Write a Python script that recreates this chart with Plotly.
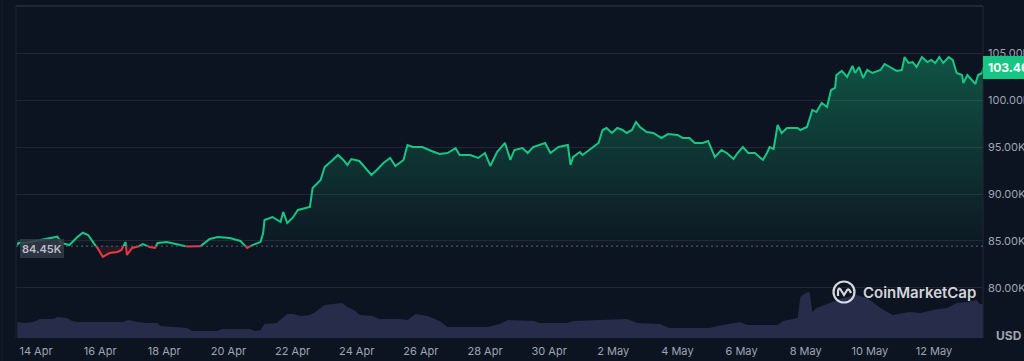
import numpy as np
import pandas as pd
import plotly.graph_objects as go

# ---------------- data ----------------
START = pd.Timestamp("2025-04-14 00:00")

price_hours = [
    -14, -13, -8, 16, 19, 25, 31, 35, 39, 44,
    46, 50, 55, 61, 64, 67, 68, 72, 76, 80,
    85, 89, 91, 98, 106, 113, 123, 130, 136, 145,
    153, 158, 162, 168, 170, 171, 177, 183, 185, 188,
    192, 196, 205, 207, 213, 216, 219, 222, 226, 230,
    233, 236, 242, 246, 251, 255, 260, 265, 269, 275,
    278, 282, 289, 296, 302, 308, 314, 317, 325, 331,
    336, 340, 345, 351, 355, 358, 364, 368, 372, 381,
    385, 391, 398, 400, 402, 407, 409, 417, 421, 424,
    427, 431, 435, 439, 442, 446, 449, 452, 457, 462,
    468, 473, 480, 484, 489, 493, 499, 503, 506, 508,
    513, 517, 522, 525, 529, 533, 538, 544, 547, 549,
    552, 555, 558, 562, 570, 572, 577, 581, 584, 588,
    592, 595, 598, 599, 603, 607, 611, 613, 616, 619,
    622, 626, 632, 635, 639, 644, 648, 650, 653, 656,
    659, 663, 667, 670, 673, 676, 679, 683, 686, 689,
    693, 694, 697, 700, 703, 705, 708, 709,
]

price_k = [
    84.57, 84.82, 84.79, 85.46, 84.79, 84.57, 85.43, 85.88, 85.64, 84.57,
    84.26, 83.30, 83.72, 83.83, 84.04, 84.89, 83.51, 84.26, 84.36, 84.68,
    84.36, 84.26, 84.79, 84.89, 84.68, 84.41, 84.43, 85.21, 85.43, 85.32,
    85.00, 84.26, 84.57, 84.89, 85.85, 87.23, 87.55, 87.02, 88.09, 86.91,
    87.45, 88.30, 88.62, 90.64, 91.49, 92.87, 93.30, 93.62, 94.15, 93.62,
    93.09, 93.72, 93.51, 92.87, 92.02, 92.55, 93.30, 93.83, 92.98, 93.62,
    95.21, 95.00, 95.00, 94.57, 94.26, 94.36, 94.89, 94.15, 94.15, 93.83,
    94.36, 92.98, 94.47, 95.43, 93.62, 94.68, 94.89, 94.36, 95.00, 95.43,
    94.36, 95.00, 95.21, 93.09, 93.94, 94.47, 94.15, 95.00, 95.43, 96.81,
    97.02, 96.49, 97.02, 96.81, 96.49, 96.81, 97.66, 97.13, 96.60, 96.49,
    95.96, 96.38, 96.28, 95.96, 95.96, 95.43, 95.43, 95.64, 94.68, 93.94,
    94.68, 94.36, 93.72, 94.36, 95.00, 94.36, 94.36, 93.62, 94.36, 95.00,
    94.79, 97.34, 96.49, 97.02, 97.02, 96.81, 97.13, 98.94, 98.72, 99.68,
    99.26, 101.06, 101.28, 102.66, 103.09, 102.45, 103.62, 102.87, 103.51, 102.34,
    103.19, 102.87, 103.19, 103.83, 103.51, 103.09, 103.19, 104.57, 103.94, 104.04,
    103.51, 104.57, 104.04, 104.26, 103.94, 104.57, 103.94, 104.57, 104.26, 102.87,
    102.66, 101.81, 102.66, 102.13, 101.70, 102.66, 102.87, 103.46,
]

volume_hours = [
    -14, -8, -2, 3, 13, 16, 23, 27, 31, 65,
    69, 76, 83, 91, 93, 108, 113, 117, 135, 140,
    160, 164, 168, 171, 180, 188, 192, 198, 205, 209,
    216, 222, 229, 233, 239, 242, 252, 257, 272, 278,
    284, 293, 302, 308, 338, 347, 353, 372, 377, 397,
    402, 422, 442, 450, 467, 474, 504, 510, 522, 527,
    532, 555, 559, 570, 572, 576, 579, 581, 584, 594,
    604, 614, 622, 632, 641, 654, 662, 671, 682, 689,
    697, 704, 706, 709,
]

volume_bn = [
    24, 22.5, 24, 28.5, 28.5, 31.5, 30, 25.5, 24, 24,
    27, 24, 22.5, 22.5, 18, 16.5, 15, 10.5, 10.5, 13.5,
    13.5, 10.5, 12, 21, 22.5, 36, 36, 33, 34.5, 39,
    49.5, 51, 52.5, 46.5, 40.5, 34.5, 33, 28.5, 28.5, 27,
    36, 33, 25.5, 16.5, 16.5, 21, 27, 25.5, 22.5, 22.5,
    25.5, 27, 28.5, 22.5, 21, 15, 15, 18, 22.5, 24,
    19.5, 19.5, 25.5, 30, 61.5, 67.5, 69, 39, 45, 52.5,
    60, 64.5, 60, 45, 34.5, 39, 37.5, 42, 45, 52.5,
    54, 57, 51, 51,
]

BASELINE = 84450
LAST_PRICE = 103460
baseline_label = "84.45K"
last_label = "103.46K"
y_tick_vals = [80000, 85000, 90000, 95000, 100000, 105000]
y_tick_text = ["80.00K", "85.00K", "90.00K", "95.00K", "100.00K", "105.00K"]
x_tick_dates = pd.date_range("2025-04-14", "2025-05-12", freq="2D")

# ---------------- styling ----------------
BG = "#0d1421"
GREEN = "#16c784"
RED = "#ea3943"
GRID = "#222733"
LABEL = "#9ea4b4"
FONT = "Inter"

Y_RANGE = [74680, 110000]
X_RANGE = [START - pd.Timedelta(hours=14.97), START + pd.Timedelta(hours=708.7)]

# ---------------- split line at the baseline ----------------
t = np.array(price_hours, float)
p = np.array(price_k, float) * 1000
ts, ps = [t[0]], [p[0]]
for i in range(len(t) - 1):
    a, b = p[i] - BASELINE, p[i + 1] - BASELINE
    if a * b < 0:
        f = a / (a - b)
        ts.append(t[i] + f * (t[i + 1] - t[i]))
        ps.append(BASELINE)
    ts.append(t[i + 1])
    ps.append(p[i + 1])
ps = np.array(ps)
times = START + pd.to_timedelta(ts, unit="h")
green_line = [v if v >= BASELINE else None for v in ps]
red_line = [v if v <= BASELINE else None for v in ps]
green_fill = np.maximum(ps, BASELINE)
red_fill = np.minimum(ps, BASELINE)
base_arr = np.full(len(ps), BASELINE)

vol_times = START + pd.to_timedelta(volume_hours, unit="h")

fig = go.Figure()

fig.add_trace(go.Scatter(
    x=vol_times, y=volume_bn, yaxis="y2", mode="lines",
    line=dict(width=0, color="rgb(38,44,74)"), fill="tozeroy",
    fillcolor="rgb(38,44,74)", hoverinfo="skip", showlegend=False,
))

fig.add_trace(go.Scatter(x=times, y=base_arr, mode="lines", line=dict(width=0),
                         hoverinfo="skip", showlegend=False))
fig.add_trace(go.Scatter(
    x=times, y=green_fill, mode="lines", line=dict(width=0), fill="tonexty",
    fillgradient=dict(type="vertical",
                      colorscale=[[0, "rgba(22,199,132,0.02)"], [1, "rgba(22,199,132,0.36)"]],
                      start=BASELINE, stop=105000),
    hoverinfo="skip", showlegend=False,
))
fig.add_trace(go.Scatter(x=times, y=base_arr, mode="lines", line=dict(width=0),
                         hoverinfo="skip", showlegend=False))
fig.add_trace(go.Scatter(
    x=times, y=red_fill, mode="lines", line=dict(width=0), fill="tonexty",
    fillcolor="rgba(234,57,67,0.12)", hoverinfo="skip", showlegend=False,
))
fig.add_trace(go.Scatter(x=times, y=green_line, mode="lines",
                         line=dict(color=GREEN, width=2), connectgaps=False,
                         showlegend=False))
fig.add_trace(go.Scatter(x=times, y=red_line, mode="lines",
                         line=dict(color=RED, width=2), connectgaps=False,
                         showlegend=False))

W, H = 1024, 361
L, R, T, B = 16, 41, 6, 23
PW, PH = W - L - R, H - T - B


def px_x(px):
    return (px - L) / PW


def px_y(py):
    return (H - B - py) / PH


def val_y(v):
    return (v - Y_RANGE[0]) / (Y_RANGE[1] - Y_RANGE[0])


shapes = [
    # outer frame
    dict(type="line", xref="paper", yref="paper", x0=0, x1=1, y0=1, y1=1,
         line=dict(color="#2a2f3c", width=1.5)),
    dict(type="line", xref="paper", yref="paper", x0=0, x1=0, y0=0, y1=1,
         line=dict(color="#1f2430", width=1)),
    dict(type="line", xref="paper", yref="paper", x0=1, x1=1, y0=0, y1=1,
         line=dict(color="#222733", width=1)),
    dict(type="line", xref="paper", yref="paper", x0=px_x(2), x1=px_x(2), y0=px_y(0), y1=px_y(361),
         line=dict(color="#1a1f2b", width=1)),
    # baseline dotted
    dict(type="line", xref="paper", yref="paper", x0=0, x1=1,
         y0=val_y(BASELINE), y1=val_y(BASELINE),
         line=dict(color="#5b6172", width=1, dash="2px,3px"), layer="above"),
    # baseline tag
    dict(type="rect", xref="paper", yref="paper", x0=px_x(20), x1=px_x(64),
         y0=px_y(258), y1=px_y(239), fillcolor="rgba(52,58,72,0.85)",
         line=dict(width=0), layer="above"),
    # last price tag
    dict(type="rect", xref="paper", yref="paper", x0=1, x1=px_x(1040),
         y0=val_y(LAST_PRICE) - 11.5 / PH, y1=val_y(LAST_PRICE) + 11.5 / PH,
         fillcolor=GREEN, line=dict(width=0), layer="above"),
    # watermark logo
    dict(type="circle", xref="paper", yref="paper", xsizemode="pixel", ysizemode="pixel",
         xanchor=px_x(844), yanchor=px_y(292), x0=-10.5, x1=10.5, y0=-10.5, y1=10.5,
         line=dict(color="rgba(235,237,242,0.9)", width=2.2), layer="above"),
    dict(type="path", xref="paper", yref="paper", xsizemode="pixel", ysizemode="pixel",
         xanchor=px_x(844), yanchor=px_y(292),
         path="M -6 -4 L -6 1 Q -5 6 -2.5 1 L 0 -3 L 2.5 1 Q 4.5 5 7 -1",
         line=dict(color="rgba(235,237,242,0.9)", width=2.2), layer="above"),
]

annotations = [
    dict(text=baseline_label, xref="paper", yref="paper", x=px_x(42), y=px_y(248.5),
         xanchor="center", yanchor="middle", showarrow=False,
         font=dict(family=FONT, size=11, color="#b9bdc9", weight=600)),
    dict(text=last_label, xref="paper", yref="paper", x=px_x(986), y=val_y(LAST_PRICE),
         xanchor="left", yanchor="middle", showarrow=False,
         font=dict(family=FONT, size=12, color="#ffffff", weight=700)),
    dict(text="USD", xref="paper", yref="paper", x=px_x(994), y=px_y(335),
         xanchor="left", yanchor="middle", showarrow=False,
         font=dict(family=FONT, size=12, color=LABEL, weight=700)),
    dict(text="CoinMarketCap", xref="paper", yref="paper", x=px_x(861), y=px_y(292),
         xanchor="left", yanchor="middle", showarrow=False,
         font=dict(family=FONT, size=15, color="rgba(235,237,242,0.9)", weight=600)),
]

fig.update_layout(
    width=W, height=H, autosize=False,
    margin=dict(l=L, r=R, t=T, b=B, pad=0, autoexpand=False),
    paper_bgcolor=BG, plot_bgcolor=BG,
    showlegend=False,
    font=dict(family=FONT, color=LABEL, size=11),
    xaxis=dict(type="date", range=X_RANGE, tickvals=x_tick_dates, automargin=False,
               tickformat="%-d %b", showgrid=False, zeroline=False, showline=False,
               ticks="", tickfont=dict(size=11, color=LABEL), ticklabelstandoff=5),
    yaxis=dict(range=Y_RANGE, side="right", tickvals=y_tick_vals, ticktext=y_tick_text,
               automargin=False,
               showgrid=True, gridcolor=GRID, gridwidth=1, zeroline=False, showline=False,
               ticks="", tickfont=dict(size=11, color=LABEL), ticklabelstandoff=4),
    yaxis2=dict(range=[0, 498], overlaying="y", visible=False, automargin=False),
    shapes=shapes,
    annotations=annotations,
)

fig.write_html(
    "out.html",
    config={"displayModeBar": False, "responsive": False},
    default_width="1024px", default_height="361px",
    post_script=(
        "document.documentElement.style.overflow='hidden';"
        "document.documentElement.style.margin='0';"
        "document.body.style.margin='0';document.body.style.padding='0';"
        "document.body.style.overflow='hidden';"
        "document.body.style.background='" + BG + "';"
    ),
)
